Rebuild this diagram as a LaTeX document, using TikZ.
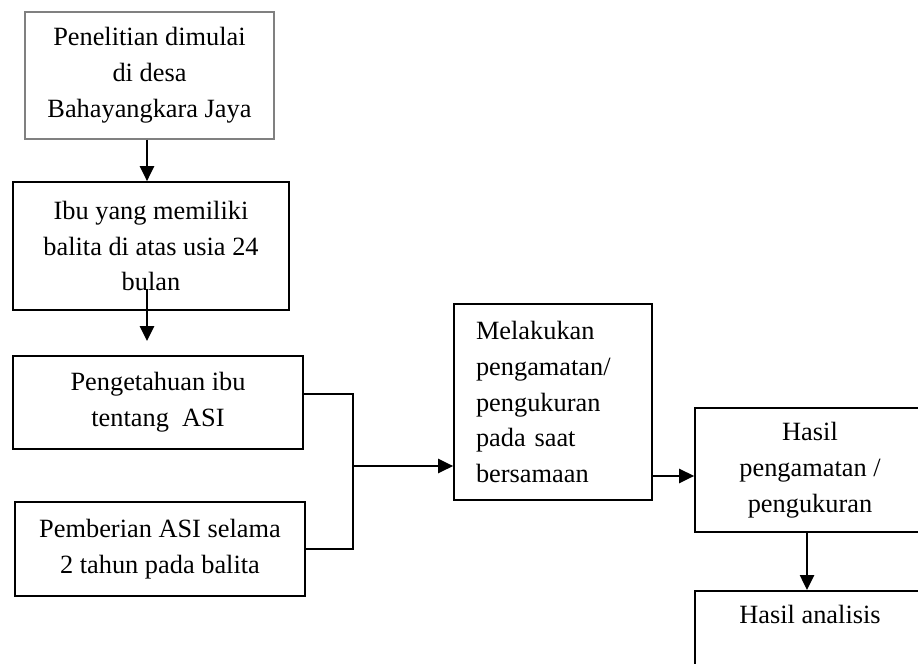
\documentclass[tikz,border=0pt]{standalone}
\usepackage{fontspec}
\setmainfont{Liberation Serif}
\usetikzlibrary{calc,arrows.meta}
\tikzset{
    flowbox/.style={draw, line width=1pt, align=center, inner sep=0pt,
        font=\fontsize{15}{20.4}\selectfont},
    flowarrow/.style={line width=1.2pt, -{Triangle[width=8pt,length=8.5pt]}},
    flowline/.style={line width=1.2pt},
}
\begin{document}
\begin{tikzpicture}[x=0.02cm,y=-0.02cm]
            \path[use as bounding box, clip] (0,0) rectangle (918,663);

            \node[flowbox, draw=black!50, line width=0.6pt, minimum width=4.98cm, minimum height=2.54cm]
                (mulai) at (149.5,75.5) {Penelitian dimulai\\di desa\\Bahayangkara Jaya};
            \node[flowbox, minimum width=5.52cm, minimum height=2.56cm]
                (ibu) at (151,246) {Ibu yang memiliki\\balita di atas usia 24\\bulan};
            \node[flowbox, minimum width=5.8cm, minimum height=1.86cm]
                (tahu) at (158,402.5) {Pengetahuan ibu\\tentang \ ASI};
            \node[flowbox, minimum width=5.8cm, minimum height=1.88cm]
                (beri) at (160,549) {Pemberian ASI selama\\2 tahun pada balita};
            \node[flowbox, align=left, text width=3.08cm, minimum width=3.96cm, minimum height=3.92cm]
                (ukur) at (553,402) {Melakukan\\pengamatan/\\pengukuran\\pada saat\\bersamaan};
            \node[flowbox, minimum width=4.6cm, minimum height=2.48cm]
                (hasil) at (810,470) {Hasil\\pengamatan /\\pengukuran};
            \node[flowbox, anchor=north, minimum width=4.6cm, inner ysep=5pt, text height=13.7pt, text depth=40pt]
                (analisis) at (810,590) {Hasil analisis};

            \coordinate (gabung) at (353,466);

            \draw[flowarrow] (mulai.south -| 147,0) -- (ibu.north -| 147,0);
            \draw[flowarrow, shorten <=-12.5pt, shorten >=8pt] (ibu.south -| 147,0) -- (tahu.north -| 147,0);
            \draw[flowline] ([yshift=5pt]tahu.east) -| (gabung) |- (beri.east);
            \draw[flowarrow] (gabung) -- (gabung -| ukur.west);
            \draw[flowarrow] ([yshift=-3.4pt]hasil.west -| ukur.east) -- ([yshift=-3.4pt]hasil.west);
            \draw[flowarrow] (hasil.south -| 807,0) -- (analisis.north -| 807,0);
        \end{tikzpicture}
\end{document}
